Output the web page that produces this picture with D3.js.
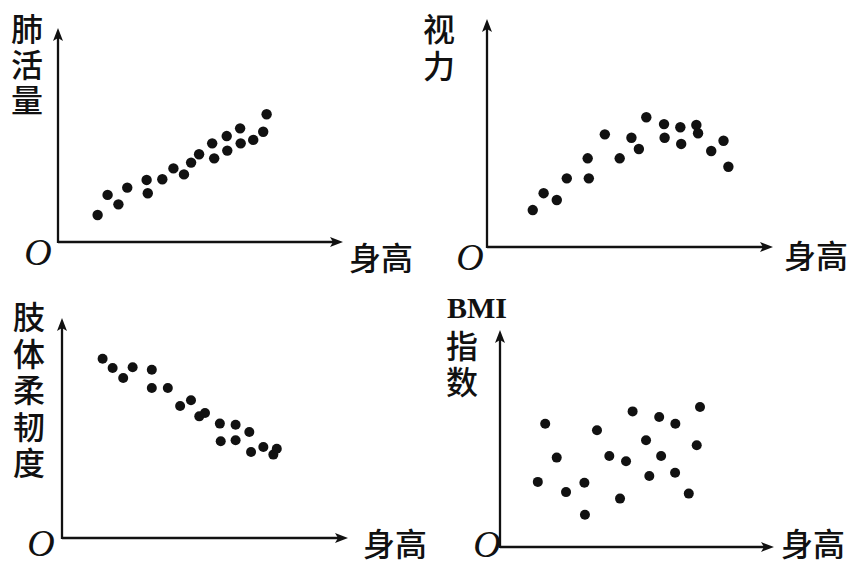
<!DOCTYPE html>
<html><head><meta charset="utf-8">
<script src="https://cdn.jsdelivr.net/npm/d3@7"></script>
<style>body{margin:0;background:#fff}svg{display:block}</style>
</head><body>
<script>
// ---- data (abstract units, 0..100 along each axis) ----
const xLabel = "身高";
const yLabels = ["肺活量", "视力", "肢体柔韧度", "指数"];
const yLabelPrefix = ["", "", "", "BMI"];

const lungX = [13.9,17.4,21.2,24.3,31.1,31.5,36.6,40.5,44.2,46.7,49.5,54.1,54.8,59.2,59.4,63.9,64.1,68.5,72.0,73.2];
const lungY = [12.6,22.0,17.6,25.4,29.0,22.8,29.3,34.4,31.6,37.1,41.0,46.1,39.1,49.5,42.7,53.1,46.1,47.7,51.5,59.7];

const visionX = [16.0,19.8,24.4,27.9,35.2,35.6,41.2,46.4,50.5,53.1,55.7,61.9,62.1,67.6,67.9,73.2,73.8,78.4,82.7,84.4];
const visionY = [16.2,23.6,20.6,30.1,38.9,30.1,49.4,38.9,47.9,43.0,56.9,53.9,47.9,52.5,45.2,53.5,49.9,42.1,46.6,35.2];

const flexX = [14.2,17.7,21.4,24.7,31.4,31.4,37.0,41.3,45.1,48.0,50.0,55.2,60.7,65.5,55.5,60.7,66.1,70.4,73.9,75.1];
const flexY = [81.5,77.3,72.7,77.6,76.5,68.2,68.2,60.0,62.6,55.3,56.8,52.0,51.5,48.2,44.0,44.4,39.1,41.4,37.9,40.6];

const bmiX = [16.5,20.7,13.8,24.1,30.8,31.0,35.4,39.9,43.8,46.0,48.4,53.3,54.5,58.1,58.8,64.0,63.9,68.9,71.8,73.0];
const bmiY = [56.8,41.2,30.0,25.3,29.6,14.9,53.8,41.9,22.3,39.5,62.5,49.2,32.7,59.9,41.9,56.8,34.2,24.6,46.9,64.5];

// ---- layout ----
const W = 852, H = 565;
const svg = d3.select("body").append("svg").attr("width", W).attr("height", H);
const CJK = "'Noto Sans CJK SC','Noto Sans',sans-serif";
const SERIF = "'Liberation Serif','DejaVu Serif',serif";

const panels = [
  {xs: lungX,   ys: lungY,   ox: 58,  oy: 242, xEnd: 343, yTop: 28,
   oPos: [38, 252], xLab: [381, 256], r: 5.2,
   yLab: {x: 27, top: 13, spacing: 3.5}},
  {xs: visionX, ys: visionY, ox: 487, oy: 247, xEnd: 773, yTop: 19,
   oPos: [470, 257], xLab: [816, 254], r: 5.2,
   yLab: {x: 439, top: 13, spacing: 5}},
  {xs: flexX,   ys: flexY,   ox: 62,  oy: 538, xEnd: 348, yTop: 318,
   oPos: [41, 543], xLab: [395, 542], r: 5,
   yLab: {x: 29, top: 301, spacing: 4.5}},
  {xs: bmiX,    ys: bmiY,    ox: 500, oy: 547, xEnd: 774, yTop: 330,
   oPos: [487, 544], xLab: [813, 542], r: 5,
   yLab: {x: 462, top: 330, spacing: 4}}
];

panels.forEach((p, k) => {
  const g = svg.append("g");
  const sx = d3.scaleLinear().domain([0, 100]).range([p.ox, p.xEnd]);
  const sy = d3.scaleLinear().domain([0, 100]).range([p.oy, p.yTop]);

  // axes
  g.append("line").attr("x1", sx(0)).attr("y1", sy(0)).attr("x2", sx(100) - 8).attr("y2", sy(0))
    .attr("stroke", "#111").attr("stroke-width", 2.3);
  g.append("line").attr("x1", sx(0)).attr("y1", sy(0) + 1).attr("x2", sx(0)).attr("y2", sy(100) + 8)
    .attr("stroke", "#111").attr("stroke-width", 2.3);
  // arrowheads
  const ax = sx(100), ay = sy(0);
  g.append("path").attr("d", `M${ax},${ay} L${ax-13},${ay-5} L${ax-10},${ay} L${ax-13},${ay+5} Z`).attr("fill", "#111");
  const bx = sx(0), by = sy(100);
  g.append("path").attr("d", `M${bx},${by} L${bx-5},${by+13} L${bx},${by+10} L${bx+5},${by+13} Z`).attr("fill", "#111");

  // points
  g.selectAll("circle").data(d3.range(p.xs.length)).join("circle")
    .attr("cx", i => sx(p.xs[i])).attr("cy", i => sy(p.ys[i])).attr("r", p.r).attr("fill", "#111");

  // origin label
  g.append("text").attr("x", p.oPos[0]).attr("y", p.oPos[1])
    .attr("text-anchor", "middle").attr("dominant-baseline", "central")
    .attr("font-family", SERIF).attr("font-style", "italic")
    .attr("font-size", 38).attr("fill", "#111").text("O");

  // x label
  g.append("text").attr("x", p.xLab[0]).attr("y", p.xLab[1])
    .attr("text-anchor", "middle").attr("dominant-baseline", "central")
    .attr("font-family", CJK).attr("font-weight", 500).attr("font-size", 32).attr("fill", "#111").text(xLabel);

  // y label (vertical)
  g.append("text").attr("x", p.yLab.x).attr("y", p.yLab.top)
    .attr("writing-mode", "vertical-rl").attr("text-anchor", "start")
    .attr("dominant-baseline", "central")
    .attr("letter-spacing", p.yLab.spacing)
    .attr("font-family", CJK).attr("font-weight", 500).attr("font-size", 32).attr("fill", "#111")
    .text(yLabels[k]);
  if (yLabelPrefix[k]) {
    g.append("text").attr("x", 477).attr("y", 318)
      .attr("text-anchor", "middle")
      .attr("font-family", SERIF).attr("font-weight", "bold")
      .attr("font-size", 30).attr("fill", "#111").text(yLabelPrefix[k]);
  }
});
</script>
</body></html>
